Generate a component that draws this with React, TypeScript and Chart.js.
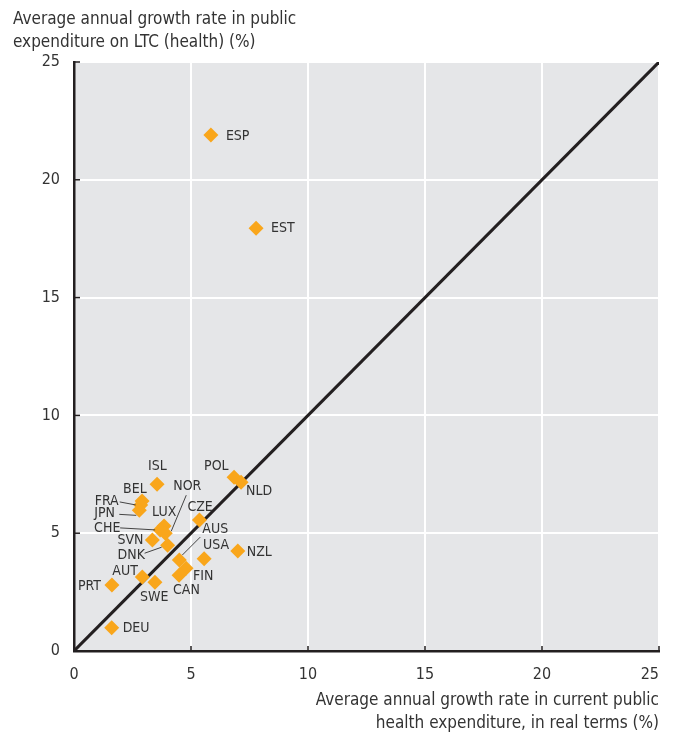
import React, { useEffect, useRef } from "react";
import { Chart, registerables } from "chart.js";

Chart.register(...registerables);

const countries = ["ESP", "EST", "ISL", "POL", "NLD", "BEL", "FRA", "JPN", "LUX", "CHE", "NOR", "CZE", "SVN", "DNK", "AUS", "USA", "NZL", "FIN", "CAN", "AUT", "SWE", "PRT", "DEU"];
const healthGrowth = [5.85, 7.78, 3.55, 6.84, 7.14, 2.91, 2.85, 2.79, 3.85, 3.68, 3.9, 5.36, 3.35, 4.0, 4.5, 5.56, 7.0, 4.79, 4.49, 2.92, 3.46, 1.62, 1.61];
const ltcGrowth = [21.9, 17.94, 7.08, 7.37, 7.16, 6.37, 6.2, 5.97, 5.31, 5.14, 5.0, 5.56, 4.71, 4.49, 3.86, 3.92, 4.24, 3.51, 3.21, 3.14, 2.92, 2.8, 0.99];
const axisTicks = [0, 5, 10, 15, 20, 25];
const diagonalX = [0, 25];
const diagonalY = [0, 25];
const yTitleLines = ["Average annual growth rate in public", "expenditure on LTC (health) (%)"];
const xTitleLines = ["Average annual growth rate in current public", "health expenditure, in real terms (%)"];

// label placement (text start dx, vertical centre dy, optional leader line offsets)
const labelStyle: Record<string, { dx: number; dy: number; line?: number[] }> = {
  ESP: { dx: 15, dy: 1 },
  EST: { dx: 15, dy: 0 },
  ISL: { dx: -9, dy: -18 },
  POL: { dx: -30, dy: -11 },
  NLD: { dx: 5, dy: 9 },
  BEL: { dx: -19, dy: -12 },
  FRA: { dx: -46, dy: -4, line: [-21, -3, -5, 0] },
  JPN: { dx: -45, dy: 3, line: [-20, 4, -3, 5] },
  LUX: { dx: -12, dy: -14 },
  CHE: { dx: -66, dy: -2, line: [-40, -2, -5, 0] },
  NOR: { dx: 8, dy: -47, line: [21, -38, 6, -2] },
  CZE: { dx: -12, dy: -13 },
  SVN: { dx: -35, dy: 0 },
  DNK: { dx: -50, dy: 10, line: [-23, 8, -6, 2] },
  AUS: { dx: 23, dy: -31, line: [21, -23, 3, -5] },
  USA: { dx: -1, dy: -13 },
  NZL: { dx: 9, dy: 1 },
  FIN: { dx: 7, dy: 8 },
  CAN: { dx: -6, dy: 15 },
  AUT: { dx: -30, dy: -6 },
  SWE: { dx: -15, dy: 15 },
  PRT: { dx: -34, dy: 1 },
  DEU: { dx: 11, dy: 1 },
};

const FONT = "'Liberation Sans Narrow', 'DejaVu Sans Condensed', 'Roboto', sans-serif";
const DARK = "#231f20";
const TEXT = "#333333";

const decoPlugin = {
  id: "deco",
  beforeDraw(chart: any) {
    const { ctx, chartArea: a } = chart;
    ctx.save();
    ctx.fillStyle = "#e5e6e8";
    ctx.fillRect(a.left, a.top, a.right - a.left, a.bottom - a.top);
    ctx.restore();
  },
  beforeDatasetsDraw(chart: any) {
    const { ctx, chartArea: a, scales } = chart;
    ctx.save();
    ctx.strokeStyle = DARK;
    ctx.lineWidth = 1.5;
    axisTicks.forEach((v) => {
      const x = scales.x.getPixelForValue(v);
      ctx.beginPath();
      ctx.moveTo(x, a.bottom);
      ctx.lineTo(x, a.bottom - 5);
      ctx.stroke();
      const y = scales.y.getPixelForValue(v);
      ctx.beginPath();
      ctx.moveTo(a.left, y);
      ctx.lineTo(a.left + 6, y);
      ctx.stroke();
    });
    ctx.restore();
  },
  afterDatasetsDraw(chart: any) {
    const { ctx, scales } = chart;
    ctx.save();
    ctx.font = `14px ${FONT}`;
    ctx.fillStyle = TEXT;
    ctx.textAlign = "left";
    ctx.textBaseline = "middle";
    ctx.strokeStyle = "#444";
    ctx.lineWidth = 1;
    countries.forEach((c, i) => {
      const px = scales.x.getPixelForValue(healthGrowth[i]);
      const py = scales.y.getPixelForValue(ltcGrowth[i]);
      const s = labelStyle[c];
      if (s.line) {
        ctx.beginPath();
        ctx.moveTo(px + s.line[0], py + s.line[1]);
        ctx.lineTo(px + s.line[2], py + s.line[3]);
        ctx.stroke();
      }
      ctx.fillText(c, px + s.dx, py + s.dy);
    });
    ctx.restore();
  },
  afterDraw(chart: any) {
    const { ctx, chartArea: a, scales } = chart;
    ctx.save();
    // x tick labels (last one kept inside the plot's right edge)
    ctx.font = `16px ${FONT}`;
    ctx.fillStyle = TEXT;
    ctx.textBaseline = "middle";
    axisTicks.forEach((v, i) => {
      const x = scales.x.getPixelForValue(v);
      const last = i === axisTicks.length - 1;
      ctx.textAlign = last ? "right" : "center";
      ctx.fillText(String(v), last ? a.right : x, a.bottom + 24);
    });
    ctx.font = `17px ${FONT}`;
    ctx.textAlign = "left";
    yTitleLines.forEach((t, i) => ctx.fillText(t, 13, 20 + i * 23));
    ctx.textAlign = "right";
    xTitleLines.forEach((t, i) => ctx.fillText(t, a.right, 701 + i * 23));
    ctx.restore();
  },
};

export default function App() {
  const ref = useRef<HTMLCanvasElement | null>(null);
  useEffect(() => {
    if (!ref.current) return;
    const chart = new Chart(ref.current, {
      type: "scatter",
      data: {
        datasets: [
          {
            type: "scatter",
            data: healthGrowth.map((x, i) => ({ x, y: ltcGrowth[i] })),
            pointStyle: "rectRot",
            pointRadius: 7.5,
            pointBackgroundColor: "#f9a61b",
            pointBorderColor: "#f9a61b",
            pointBorderWidth: 0,
            order: 0,
          },
          {
            type: "line",
            data: diagonalX.map((x, i) => ({ x, y: diagonalY[i] })),
            borderColor: DARK,
            borderWidth: 3,
            pointRadius: 0,
            order: 1,
          },
        ],
      },
      options: {
        responsive: false,
        animation: false,
        layout: { padding: { top: 62, right: 16, left: 0, bottom: 0 } },
        plugins: { legend: { display: false }, tooltip: { enabled: false } },
        scales: {
          x: {
            type: "linear",
            min: 0,
            max: 25,
            afterFit: (s: any) => { s.height = 84; s.paddingRight = 0; s.paddingLeft = 0; },
            ticks: { display: false, stepSize: 5 },
            grid: { color: "#ffffff", lineWidth: 2, drawTicks: false },
            border: { display: true, color: DARK, width: 2.5 },
          },
          y: {
            type: "linear",
            min: 0,
            max: 25,
            afterFit: (s: any) => { s.width = 74; s.paddingTop = 0; s.paddingBottom = 0; },
            ticks: { stepSize: 5, padding: 14, color: TEXT, font: { size: 16, family: FONT } },
            grid: { color: "#ffffff", lineWidth: 2, drawTicks: false },
            border: { display: true, color: DARK, width: 2.5 },
          },
        },
      },
      plugins: [decoPlugin],
    } as any);
    return () => chart.destroy();
  }, []);
  return (
    <div style={{ position: "fixed", left: 0, top: 0, width: 675, height: 735, background: "#fff" }}>
      <canvas ref={ref} width={675} height={735} style={{ width: 675, height: 735 }} />
    </div>
  );
}
